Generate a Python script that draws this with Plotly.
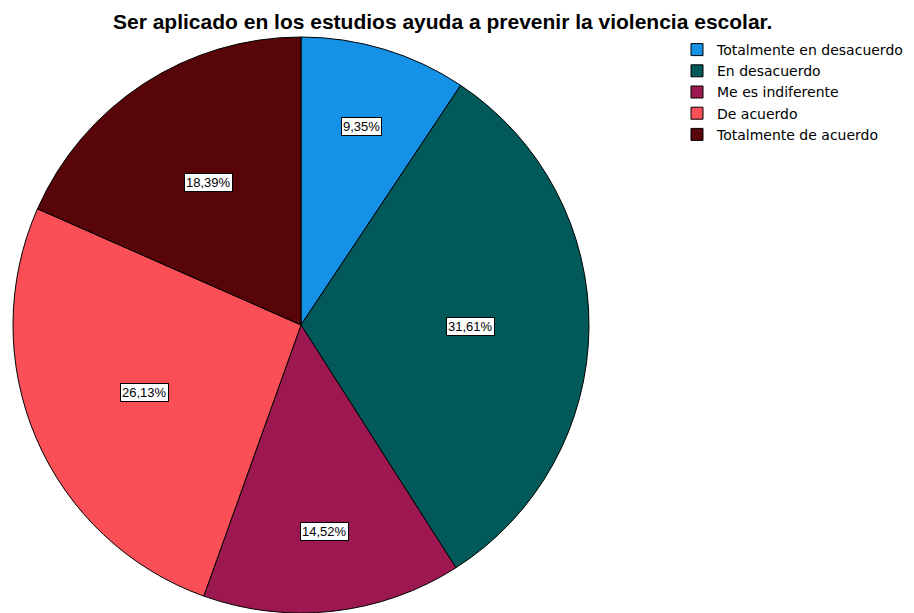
import math
import plotly.graph_objects as go

categories = ["Totalmente en desacuerdo", "En desacuerdo", "Me es indiferente",
              "De acuerdo", "Totalmente de acuerdo"]
percentages = [9.35, 31.61, 14.52, 26.13, 18.39]
pct_labels = ["9,35%", "31,61%", "14,52%", "26,13%", "18,39%"]
colors = ["#1592E6", "#01595A", "#9D1850", "#FB4F57", "#570508"]
title_text = "Ser aplicado en los estudios ayuda a prevenir la violencia escolar."

OFF = 8  # page body margin
W, H = 906, 605
left_px, right_px, top_px = 12 - OFF, 590 - OFF, 37 - OFF
R = min(right_px - left_px, H - top_px) / 2
cx_px = (left_px + right_px) / 2
cy_px = top_px + R

fig = go.Figure(go.Pie(
    labels=categories, values=percentages, sort=False, direction="clockwise",
    rotation=0, textinfo="none", hoverinfo="label+percent",
    marker=dict(colors=colors, line=dict(color="#000000", width=1)),
    domain=dict(x=[left_px / W, right_px / W], y=[0, (H - top_px) / H]),
))

total = sum(percentages)
cum = 0.0
annotations = []
for v, lab in zip(percentages, pct_labels):
    mid = (cum + v / 2) / total * 2 * math.pi
    cum += v
    d = R * (0.72 if v / total < 0.17 else 0.59)
    x_px = cx_px + d * math.sin(mid)
    y_px = cy_px - d * math.cos(mid)
    annotations.append(dict(
        x=x_px / W, y=1 - y_px / H, xref="paper", yref="paper", text=lab,
        showarrow=False, bgcolor="white", bordercolor="black", borderwidth=1,
        borderpad=1, font=dict(family="Liberation Sans, Arial", size=13, color="black"),
        xanchor="center", yanchor="middle"))

annotations.append(dict(
    x=(442 - OFF) / W, y=1 - (21 - OFF) / H, xref="paper", yref="paper",
    text="<b>" + title_text + "</b>",
    showarrow=False, font=dict(family="Liberation Sans, Arial", size=21, color="black"),
    xanchor="center", yanchor="middle"))

fig.update_layout(
    width=W, height=H, autosize=False,
    margin=dict(l=0, r=0, t=0, b=0),
    paper_bgcolor="white", plot_bgcolor="white",
    annotations=annotations,
    legend=dict(x=(677 - OFF) / W, y=1 - (34 - OFF) / H, xanchor="left", yanchor="top",
                font=dict(family="DejaVu Sans", size=14, color="black"),
                tracegroupgap=0, itemwidth=30, bgcolor="rgba(0,0,0,0)"),
    showlegend=True,
)

fig.write_html("out.html")
